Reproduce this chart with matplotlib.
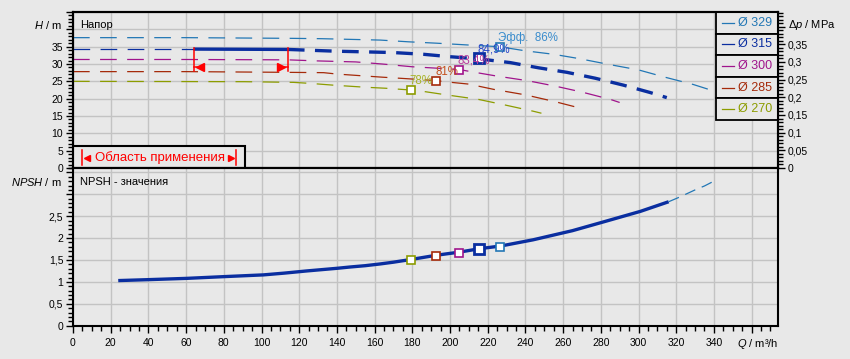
import matplotlib
matplotlib.use("Agg")
import matplotlib.pyplot as plt
from matplotlib.patches import Rectangle
from matplotlib.ticker import MultipleLocator, FuncFormatter

plt.rcParams["font.family"] = ["Liberation Sans", "DejaVu Sans"]
plt.rcParams["mathtext.fontset"] = "custom"
plt.rcParams["mathtext.it"] = "Liberation Sans:italic"
plt.rcParams["mathtext.rm"] = "Liberation Sans"
plt.rcParams["lines.scale_dashes"] = False

# --- data -------------------------------------------------------------------
diam_labels = ["Ø 329", "Ø 315", "Ø 300", "Ø 285", "Ø 270"]
colors = ["#2277b5", "#0a2ea0", "#a0148c", "#a52a0a", "#8c9c00"]

q329 = [0, 60, 116, 132, 163, 178, 193, 209, 226, 240, 255, 268, 285, 300, 314, 329, 340]
h329 = [37.6, 37.6, 37.4, 37.3, 36.9, 36.4, 36.0, 35.5, 35.0, 33.8, 32.8, 31.6, 29.8, 28.3, 26.2, 24.1, 22.2]
q315 = [0, 64, 114, 124, 139, 155, 170, 186, 200, 215, 232, 247, 262, 277, 292, 306, 315]
h315 = [34.3, 34.3, 34.2, 34.0, 33.7, 33.5, 33.3, 32.8, 32.1, 31.5, 30.4, 28.9, 27.6, 25.9, 23.9, 21.8, 20.3]
q300 = [0, 60, 114, 129, 150, 164, 180, 196, 205, 211, 225, 241, 256, 270, 285, 290]
h300 = [31.3, 31.3, 31.2, 30.9, 30.6, 30.0, 29.2, 28.7, 28.4, 27.8, 26.5, 25.2, 23.6, 21.9, 19.8, 18.9]
q285 = [0, 60, 113, 133, 140, 164, 176, 193, 197, 210, 223, 240, 256, 266, 270]
h285 = [27.8, 27.8, 27.6, 27.5, 27.1, 26.2, 25.8, 25.2, 24.9, 24.2, 22.7, 21.1, 19.1, 17.7, 17.2]
q270 = [0, 91, 117, 126, 138, 155, 166, 179, 187, 198, 215, 229, 244, 248.5]
h270 = [25.0, 24.9, 24.7, 24.4, 23.9, 23.3, 23.0, 22.5, 22.0, 21.1, 19.8, 18.2, 16.4, 15.8]

# best efficiency points (Q, H, NPSH, label)
eff_q = [226.4, 215.4, 204.7, 192.8, 179.2]
eff_h = [35.0, 31.7, 28.4, 25.2, 22.5]
eff_npsh = [1.80, 1.74, 1.67, 1.60, 1.51]
eff_labels = ["Эфф.  86%", "84,9%", "83,4%", "81%", "78%"]
eff_text_colors = ["#3a8ccc", "#2a48c8", "#b83c9c", "#c4501c", "#a8b428"]

range_q = [64, 114]          # application range on Ø 315
range_h = 34.3

npsh_q = [24, 39, 60, 80, 101, 112, 124, 132, 140, 147, 155, 163, 170, 179, 193, 205,
          216, 227, 244, 265, 279, 301, 316]
npsh_v = [1.03, 1.05, 1.08, 1.12, 1.16, 1.20, 1.25, 1.28, 1.31, 1.34, 1.37, 1.41, 1.45,
          1.51, 1.61, 1.68, 1.76, 1.82, 1.96, 2.17, 2.34, 2.61, 2.83]
npsh_ext_q = [316, 322, 330, 335, 340]
npsh_ext_v = [2.83, 2.94, 3.10, 3.19, 3.30]

curves_q = [q329, q315, q300, q285, q270]
curves_h = [h329, h315, h300, h285, h270]

# --- figure -------------------------------------------------------------------
BG = "#e8e8e8"
GRID = "#c3c3c3"
DASH = (12, 7.5)

fig = plt.figure(figsize=(8.5, 3.59), dpi=100, facecolor=BG)
ax1 = fig.add_axes([73 / 850, 1 - 168 / 359, 705 / 850, 156 / 359], facecolor=BG)
ax2 = fig.add_axes([73 / 850, 1 - 325.7 / 359, 705 / 850, 157.7 / 359], facecolor=BG, sharex=ax1)


def comma(skip):
    def f(v, pos):
        if any(abs(v - s) < 1e-9 for s in skip):
            return ""
        return ("%g" % round(v, 3)).replace(".", ",")
    return FuncFormatter(f)


for ax in (ax1, ax2):
    for s in ax.spines.values():
        s.set_linewidth(1.5)
    ax.grid(True, color=GRID, lw=1.0)
    ax.set_axisbelow(True)
    ax.tick_params(which="major", direction="out", length=5, width=1, labelsize=7.5, pad=2)
    ax.tick_params(which="minor", direction="out", length=3.3, width=1)

ax1.set_xlim(0, 374)
ax1.set_ylim(0, 45)
ax1.xaxis.set_major_locator(MultipleLocator(20))
ax1.yaxis.set_major_locator(MultipleLocator(5))
ax1.yaxis.set_minor_locator(MultipleLocator(1))
ax1.yaxis.set_major_formatter(comma([40, 45]))
ax1.tick_params(axis="x", which="both", length=0, labelbottom=False)

ax2.set_ylim(0, 3.6)
ax2.xaxis.set_minor_locator(MultipleLocator(5))
ax2.yaxis.set_major_locator(MultipleLocator(0.5))
ax2.yaxis.set_minor_locator(MultipleLocator(0.1))
ax2.yaxis.set_major_formatter(comma([3.0, 3.5]))
ax2.xaxis.set_major_formatter(comma([360]))
ax2.tick_params(axis="x", which="major", pad=4)

# right axis: pressure difference
axr = ax1.twinx()
axr.set_ylim(0, 45 * 0.00981)
axr.yaxis.set_major_locator(MultipleLocator(0.05))
axr.yaxis.set_minor_locator(MultipleLocator(0.01))
axr.yaxis.set_major_formatter(comma([0.4]))
axr.tick_params(which="major", direction="out", length=5, width=1, labelsize=7.5, pad=2)
axr.tick_params(which="minor", direction="out", length=3.3, width=1)
for s in axr.spines.values():
    s.set_linewidth(1.5)

# --- H-Q curves ----------------------------------------------------------------
for i, (qs, hs, c) in enumerate(zip(curves_q, curves_h, colors)):
    if i == 1:
        left = [(q, h) for q, h in zip(qs, hs) if q <= range_q[0]]
        mid = [(q, h) for q, h in zip(qs, hs) if range_q[0] <= q <= range_q[1]]
        right = [(q, h) for q, h in zip(qs, hs) if q >= range_q[1]]
        ax1.plot(*zip(*left), color=c, lw=0.9, dashes=DASH)
        ax1.plot(*zip(*mid), color=c, lw=2.4, solid_capstyle="butt")
        ax1.plot(*zip(*right), color=c, lw=2.4, dashes=DASH, dash_capstyle="butt")
    else:
        ax1.plot(qs, hs, color=c, lw=0.9, dashes=DASH)

# application range markers
for q in range_q:
    ax1.plot([q, q], [range_h + 0.2, 28.0], color="red", lw=1.1)
ax1.plot([range_q[0] + 3.6], [29.2], marker="<", ms=6, color="red", mec="red")
ax1.plot([range_q[1] - 3.6], [29.2], marker=">", ms=6, color="red", mec="red")
ax1.plot([range_q[0], range_q[0] + 3], [29.2, 29.2], color="red", lw=1.1)
ax1.plot([range_q[1] - 3, range_q[1]], [29.2, 29.2], color="red", lw=1.1)

# best efficiency points
for i, (q, h, lab, c, tc) in enumerate(zip(eff_q, eff_h, eff_labels, colors, eff_text_colors)):
    big = i == 1
    ax1.plot(q, h, marker="s", ms=7 if big else 6, mfc="white", mec=c,
             mew=2.0 if big else 1.2, zorder=5)
    ax1.annotate(lab, (q, h), xytext=(-1, 2), textcoords="offset points",
                 ha="left", va="bottom", color=tc, fontsize=8.3, zorder=6)

# legend boxes
bh = (1 - 0.3077) / 5
for i, (lab, c) in enumerate(zip(diam_labels, colors)):
    y0 = 1 - (i + 1) * bh
    ax1.add_patch(Rectangle((0.912, y0), 0.088, bh, transform=ax1.transAxes,
                            facecolor=BG, edgecolor="black", lw=1.3, zorder=7,
                            clip_on=False))
    yc = y0 + bh / 2
    ax1.plot([0.92, 0.937], [yc, yc], transform=ax1.transAxes, color=c, lw=0.9, zorder=8)
    ax1.text(0.943, yc, lab, transform=ax1.transAxes, color=c, fontsize=9,
             va="center", ha="left", zorder=8)

# application range box
ax1.add_patch(Rectangle((0, 0), 0.244, 0.141, transform=ax1.transAxes, facecolor=BG,
                        edgecolor="black", lw=1.5, zorder=7))
ax1.plot([0.0128, 0.0128], [0.02, 0.115], transform=ax1.transAxes, color="red", lw=1.1, zorder=8)
ax1.plot([0.2305, 0.2305], [0.02, 0.115], transform=ax1.transAxes, color="red", lw=1.1, zorder=8)
ax1.plot([0.0195], [0.067], transform=ax1.transAxes, marker="<", ms=4.5, color="red", zorder=8)
ax1.plot([0.2235], [0.067], transform=ax1.transAxes, marker=">", ms=4.5, color="red", zorder=8)
ax1.text(0.031, 0.067, "Область применения", transform=ax1.transAxes, color="red",
         fontsize=9.5, va="center", ha="left", zorder=8)

# axis titles
ax1.text(0.0099, 0.9186, "Напор", transform=ax1.transAxes, fontsize=8, va="center")
ax1.text(-0.0156, 0.9186, r"$\it{H}$ / m", transform=ax1.transAxes, fontsize=8,
         va="center", ha="right")
ax1.text(1.014, 0.9186, r"$\it{Δp}$ / MPa", transform=ax1.transAxes, fontsize=8,
         va="center", ha="left")

# --- NPSH ------------------------------------------------------------------------
ax2.plot(npsh_q, npsh_v, color=colors[1], lw=2.4, solid_capstyle="butt")
ax2.plot(npsh_ext_q, npsh_ext_v, color=colors[0], lw=0.9, dashes=(8, 5))
for i, (q, n, c) in enumerate(zip(eff_q, eff_npsh, colors)):
    big = i == 1
    ax2.plot(q, n, marker="s", ms=7 if big else 6, mfc="white", mec=c,
             mew=2.0 if big else 1.2, zorder=5)

ax2.text(0.0099, 0.913, "NPSH - значения", transform=ax2.transAxes, fontsize=8, va="center")
ax2.text(-0.0156, 0.913, r"$\it{NPSH}$ / m", transform=ax2.transAxes, fontsize=8,
         va="center", ha="right")
ax2.text(1.0, -0.116, r"$\it{Q}$ / m³/h", transform=ax2.transAxes, fontsize=8,
         va="center", ha="right")

fig.savefig("out.png", dpi=100, facecolor=BG)
